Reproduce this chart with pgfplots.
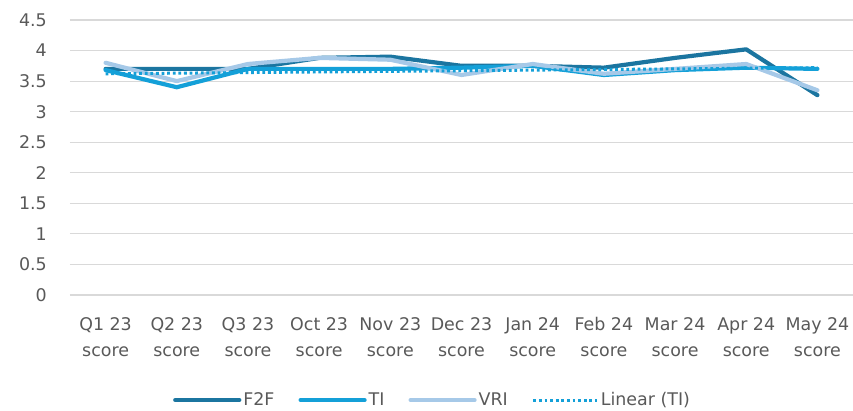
\documentclass[border=0pt]{standalone}
\usepackage{fontspec}
\setmainfont{DejaVu Sans}
\usepackage{pgfplots}
\pgfplotsset{compat=1.18}
\definecolor{f2f}{HTML}{1B75A0}
\definecolor{ti}{HTML}{14A0D8}
\definecolor{vri}{HTML}{A6C9E8}
\definecolor{txt}{HTML}{595959}
\definecolor{gridc}{HTML}{D9D9D9}
\begin{document}
\begin{tikzpicture}
\begin{axis}[
  scale only axis, width=783bp, height=275bp,
  xmin=-0.5, xmax=10.5, ymin=0, ymax=4.5,
  ytick={0,0.5,1,1.5,2,2.5,3,3.5,4,4.5},
  xtick={0,1,2,3,4,5,6,7,8,9,10},
  xticklabels={{Q1 23\\score},{Q2 23\\score},{Q3 23\\score},{Oct 23\\score},{Nov 23\\score},{Dec 23\\score},{Jan 24\\score},{Feb 24\\score},{Mar 24\\score},{Apr 24\\score},{May 24\\score}},
  axis line style={draw=none},
  major tick length=0pt,
  ymajorgrids, grid style={draw=gridc, line width=1.2bp},
  /pgf/number format/assume math mode=true,
  tick label style={font=\fontsize{17.5}{26}\selectfont, text=txt},
  yticklabel style={anchor=east, inner sep=0pt, xshift=-23bp},
  xticklabel style={align=center, anchor=north, inner sep=0pt, yshift=-22bp},
  legend columns=4,
  legend style={at={(0.1315,-0.382)}, anchor=west, draw=none, fill=none, inner sep=0pt,
    font=\fontsize{17.5}{21}\selectfont, text=txt,
    /tikz/every even column/.append style={column sep=22bp},
    nodes={inner sep=2bp}},
  legend image code/.code={\draw[#1] (0bp,0bp) -- (64bp,0bp);},
  every axis plot/.append style={line join=round},
]
\addplot[f2f, line width=4.2bp, line cap=round] coordinates {(0,3.70) (1,3.70) (2,3.70) (3,3.88) (4,3.90) (5,3.75) (6,3.75) (7,3.72) (8,3.88) (9,4.02) (10,3.27)};
\addlegendentry{F2F}
\addplot[ti, line width=4.2bp, line cap=round] coordinates {(0,3.68) (1,3.40) (2,3.70) (3,3.70) (4,3.70) (5,3.72) (6,3.75) (7,3.60) (8,3.68) (9,3.72) (10,3.70)};
\addlegendentry{TI}
\addplot[vri, line width=4.2bp, line cap=round] coordinates {(0,3.80) (1,3.50) (2,3.78) (3,3.88) (4,3.85) (5,3.60) (6,3.78) (7,3.62) (8,3.70) (9,3.78) (10,3.35)};
\addlegendentry{VRI}
\addplot[ti, line width=3bp, dash pattern=on 2.8bp off 2.8bp] coordinates {(0,3.62) (10,3.72)};
\addlegendentry{Linear (TI)}
\end{axis}
\pgfresetboundingbox
\path[use as bounding box] (-70bp,-116bp) rectangle (783bp,295bp);
\end{tikzpicture}
\end{document}
